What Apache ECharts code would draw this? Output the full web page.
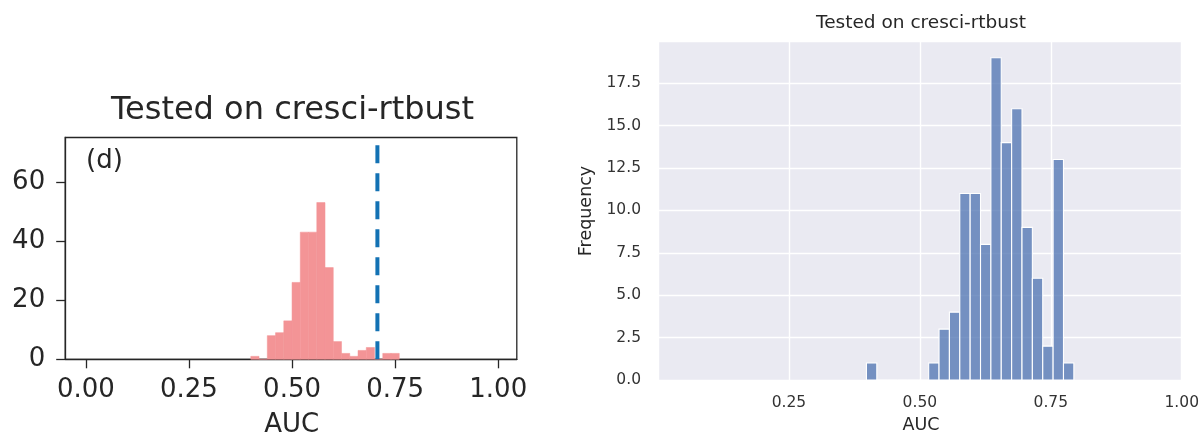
<!DOCTYPE html>
<html>
<head>
<meta charset="utf-8">
<script src="https://cdn.jsdelivr.net/npm/echarts@6/dist/echarts.min.js"></script>
<style>
  html, body { margin: 0; padding: 0; background: #ffffff; }
  #chart { width: 1202px; height: 436px; }
</style>
</head>
<body>
<div id="chart"></div>
<script>
// ---- Left panel: AUC distribution, with the reference AUC as a dashed line ----
const leftBinEdges = [0.40, 0.42, 0.44, 0.46, 0.48, 0.50, 0.52, 0.54, 0.56, 0.58,
                      0.60, 0.62, 0.64, 0.66, 0.68, 0.70, 0.72, 0.74, 0.76];
const leftCounts   = [1, 0, 8, 9, 13, 26, 43, 43, 53, 31, 6, 2, 1, 3, 4, 0, 2, 2];
const leftReferenceAuc = 0.707;
const leftXTicks = [0, 0.25, 0.5, 0.75, 1];
const leftYTicks = [0, 20, 40, 60];

// ---- Right panel: AUC frequency histogram ----
const rightBinEdges = [0.398, 0.4178, 0.4376, 0.4574, 0.4772, 0.497, 0.5168, 0.5366, 0.5564, 0.5762,
                       0.596, 0.6158, 0.6356, 0.6554, 0.6752, 0.695, 0.7148, 0.7346, 0.7544, 0.7742, 0.794];
const rightCounts   = [1, 0, 0, 0, 0, 0, 1, 3, 4, 11, 11, 8, 19, 14, 16, 9, 6, 2, 13, 1];

const panelTitle = 'Tested on cresci-rtbust';
const FONT = 'DejaVu Sans';
const INK = '#262626';

// [binStart, binEnd, count] triples for the custom histogram series
function toBins(edges, counts) {
  return counts.map((c, i) => [edges[i], edges[i + 1], c]);
}

function histRenderer(fill, stroke, lineWidth) {
  return function (params, api) {
    const topLeft = api.coord([api.value(0), api.value(2)]);
    const bottomRight = api.coord([api.value(1), 0]);
    return {
      type: 'rect',
      shape: {
        x: topLeft[0],
        y: topLeft[1],
        width: bottomRight[0] - topLeft[0],
        height: bottomRight[1] - topLeft[1]
      },
      style: { fill: fill, stroke: stroke, lineWidth: lineWidth }
    };
  };
}

function label(text, x, y, size, opts) {
  opts = opts || {};
  return {
    type: 'text', x: x, y: y, silent: true, rotation: opts.rotation || 0,
    style: {
      text: text, fontFamily: FONT, fontSize: size, fill: opts.fill || INK,
      align: opts.align || 'center', verticalAlign: 'middle'
    }
  };
}

const chart = echarts.init(document.getElementById('chart'), null, { renderer: 'canvas' });

chart.setOption({
  animation: false,
  backgroundColor: '#ffffff',
  textStyle: { fontFamily: FONT },
  grid: [
    { left: 65.2, top: 137.5, width: 451.6, height: 221.8, show: true,
      backgroundColor: '#ffffff', borderColor: INK, borderWidth: 1.3, containLabel: false },
    { left: 658, top: 41.7, width: 526, height: 338.3, show: true,
      backgroundColor: '#eaeaf2', borderWidth: 0, containLabel: false }
  ],
  xAxis: [
    {
      type: 'value', gridIndex: 0, min: -0.05, max: 1.045,
      axisLine: { show: true, onZero: false, lineStyle: { color: INK, width: 1.3 } },
      axisTick: { show: true, customValues: leftXTicks, length: 9, lineStyle: { color: INK, width: 1.3 } },
      axisLabel: { customValues: leftXTicks, formatter: v => v.toFixed(2),
                   fontFamily: FONT, fontSize: 26, color: INK, margin: 18 },
      splitLine: { show: false }
    },
    {
      type: 'value', gridIndex: 1, min: 0, max: 1, interval: 0.25,
      axisLine: { show: false }, axisTick: { show: false },
      axisLabel: { formatter: v => v.toFixed(2), showMinLabel: false,
                   fontFamily: FONT, fontSize: 15.5, color: '#333333', margin: 15 },
      splitLine: { show: true, lineStyle: { color: '#ffffff', width: 1.4 } }
    }
  ],
  yAxis: [
    {
      type: 'value', gridIndex: 0, min: 0, max: 75,
      axisLine: { show: true, onZero: false, lineStyle: { color: INK, width: 1.3 } },
      axisTick: { show: true, customValues: leftYTicks, length: 9, lineStyle: { color: INK, width: 1.3 } },
      axisLabel: { customValues: leftYTicks, fontFamily: FONT, fontSize: 26, color: INK, margin: 20 },
      splitLine: { show: false }
    },
    {
      type: 'value', gridIndex: 1, min: 0, max: 19.95, interval: 2.5,
      axisLine: { show: false, onZero: false }, axisTick: { show: false },
      axisLabel: { formatter: v => v.toFixed(1), showMaxLabel: false,
                   fontFamily: FONT, fontSize: 15.5, color: '#333333', margin: 17 },
      splitLine: { show: true, lineStyle: { color: '#ffffff', width: 1.4 } }
    }
  ],
  series: [
    {
      type: 'custom', name: 'left-hist', xAxisIndex: 0, yAxisIndex: 0,
      renderItem: histRenderer('#f39496', '#f39496', 0.5),
      data: toBins(leftBinEdges, leftCounts), z: 2, silent: true
    },
    {
      type: 'line', name: 'reference-auc', xAxisIndex: 0, yAxisIndex: 0,
      data: [[leftReferenceAuc, 0], [leftReferenceAuc, 75]],
      symbol: 'none', silent: true, z: 5,
      lineStyle: { color: '#1372b4', width: 4, type: [18, 10], cap: 'butt' }
    },
    {
      type: 'custom', name: 'right-hist', xAxisIndex: 1, yAxisIndex: 1,
      renderItem: histRenderer('rgba(76,114,176,0.75)', '#ffffff', 1.1),
      data: toBins(rightBinEdges, rightCounts), z: 2, silent: true
    }
  ],
  graphic: [
    label(panelTitle, 292.5, 111, 32),
    label('(d)', 86, 161, 26, { align: 'left' }),
    label('AUC', 291.7, 425.5, 26),
    label(panelTitle, 921, 23.5, 18.5),
    label('Frequency', 586, 211, 17.5, { rotation: Math.PI / 2 }),
    label('AUC', 921, 425, 17.5)
  ]
});
</script>
</body>
</html>
